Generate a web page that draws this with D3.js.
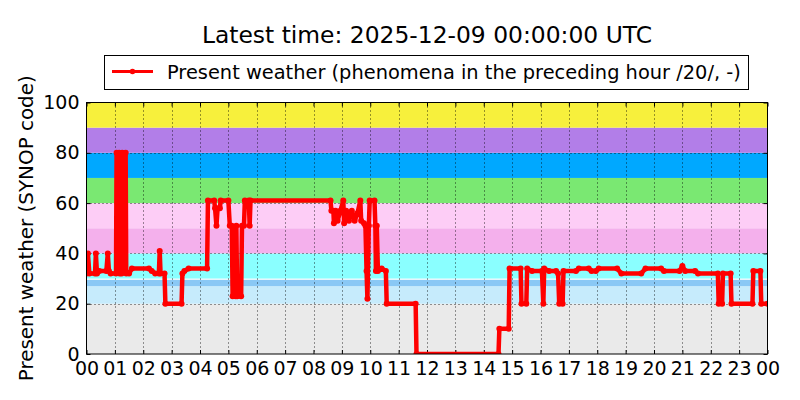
<!DOCTYPE html>
<html><head><meta charset="utf-8">
<script src="https://cdn.jsdelivr.net/npm/d3@7"></script>
<style>body{margin:0;background:#fff}svg{display:block;font-family:"DejaVu Sans",sans-serif}</style>
</head><body><svg id="c" width="800" height="400"></svg>
<script>
const titleText = "Latest time: 2025-12-09 00:00:00 UTC";
const legendText = "Present weather (phenomena in the preceding hour /20/, -)";
const yLabel = "Present weather (SYNOP code)";
const hourTicks = d3.range(0, 25);
const hourLabels = ["00","01","02","03","04","05","06","07","08","09","10","11","12","13","14","15","16","17","18","19","20","21","22","23","00"];
const yTicks = [0, 20, 40, 60, 80, 100];
const bandLow  = [0, 20, 27, 30, 40, 50, 60, 70, 80, 90];
const bandHigh = [20, 27, 29.5, 40, 50, 60, 70, 80, 90, 100];
const bandColors = ["#eaeaea","#c6ebfc","#8ac8f5","#8affff","#f4b0ec","#fdcdf6","#7ae872","#00a8ff","#b27ee8","#f7f03c"];
const times = [0.00,0.05,0.10,0.30,0.33,0.37,0.45,0.70,0.75,0.79,0.85,1.04,1.06,1.15,1.17,1.24,1.26,1.38,1.40,1.50,1.60,2.20,2.30,2.42,2.55,2.58,2.61,2.75,2.78,3.35,3.38,3.45,3.60,4.25,4.28,4.50,4.53,4.58,4.62,4.70,4.73,5.00,5.05,5.12,5.15,5.25,5.28,5.31,5.45,5.48,5.55,5.58,5.72,5.75,5.78,8.60,8.63,8.70,8.72,8.78,8.85,8.95,9.05,9.08,9.15,9.25,9.35,9.45,9.55,9.65,9.68,9.78,9.83,9.87,9.90,9.95,9.98,10.15,10.18,10.20,10.23,10.27,10.40,10.55,10.58,11.60,11.63,14.52,14.55,14.88,14.91,15.30,15.33,15.50,15.53,15.70,16.05,16.10,16.13,16.30,16.55,16.62,16.66,16.78,16.81,17.25,17.35,17.70,17.80,17.95,18.05,18.70,18.85,19.55,19.70,20.25,20.35,20.90,21.00,21.10,21.45,21.55,22.25,22.28,22.40,22.43,22.70,22.73,23.47,23.50,23.75,23.78,24.00];
const values = [32,40,32,32,40,32,33,33,40,33,32,32,80,80,32,32,80,80,32,32,34,34,33,32,32,41,32,32,20,20,32,33,34,34,61,61,58,51,58,58,61,61,51,51,23,23,51,23,23,51,51,61,61,51,61,61,57,57,52,57,53,57,61,52,57,53,57,53,56,61,53,52,51,33,22,51,61,61,51,33,51,33,34,33,20,20,0,0,10,10,34,34,20,20,34,33,33,20,34,33,33,32,20,20,33,33,34,34,33,33,34,34,32,32,34,34,33,33,35,33,33,32,32,20,20,32,32,20,20,33,33,20,20];

const svg = d3.select("#c");
const L = 86.5, R = 767.5, T = 102.5, B = 354;
const x = d3.scaleLinear().domain([0, 24]).range([L, R]);
const y = d3.scaleLinear().domain([0, 100]).range([B, T]);

svg.append("defs").append("clipPath").attr("id", "plotclip")
  .append("rect").attr("x", L).attr("y", T).attr("width", R - L).attr("height", B - T);

// bands
svg.append("g").selectAll("rect").data(bandLow).join("rect")
  .attr("x", L).attr("width", R - L)
  .attr("y", (d, i) => y(bandHigh[i])).attr("height", (d, i) => y(d) - y(bandHigh[i]))
  .attr("fill", (d, i) => bandColors[i]);

// grid
const grid = svg.append("g").attr("stroke", "#000").attr("stroke-width", 0.8).attr("stroke-dasharray", "1,3");
grid.selectAll("line.v").data(hourTicks.slice(1, -1)).join("line")
  .attr("x1", d => Math.round(x(d)) + 0.5).attr("x2", d => Math.round(x(d)) + 0.5).attr("y1", T).attr("y2", B);
grid.selectAll("line.h").data(yTicks.slice(1, -1)).join("line")
  .attr("y1", d => Math.round(y(d)) + 0.5).attr("y2", d => Math.round(y(d)) + 0.5).attr("x1", L).attr("x2", R);

// axes
const xAxis = d3.axisBottom(x).tickValues(hourTicks).tickFormat((d, i) => hourLabels[i]).tickSizeInner(-4).tickSizeOuter(0).tickPadding(8);
const gx = svg.append("g").attr("transform", `translate(0,${B})`).call(xAxis);
const yAxis = d3.axisLeft(y).tickValues(yTicks).tickSizeInner(-4).tickSizeOuter(0).tickPadding(7);
const gy = svg.append("g").attr("transform", `translate(${L},0)`).call(yAxis);
[gx, gy].forEach(g => {
  g.select(".domain").remove();
  g.selectAll("text").attr("font-size", 19).attr("font-family", "DejaVu Sans").attr("fill", "#000");
  g.selectAll("line").attr("stroke", "#000");
});
// top & right ticks
svg.append("g").attr("transform", `translate(0,${T})`).call(d3.axisTop(x).tickValues(hourTicks).tickSizeInner(-4).tickSizeOuter(0).tickFormat(""))
  .call(g => { g.select(".domain").remove(); g.selectAll("line").attr("stroke", "#000"); });
svg.append("g").attr("transform", `translate(${R},0)`).call(d3.axisRight(y).tickValues(yTicks).tickSizeInner(-4).tickSizeOuter(0).tickFormat(""))
  .call(g => { g.select(".domain").remove(); g.selectAll("line").attr("stroke", "#000"); });

// data line
const pts = times.map((t, i) => [t, values[i]]);
const line = d3.line().x(d => x(d[0])).y(d => y(d[1]));
const plot = svg.append("g").attr("clip-path", "url(#plotclip)");
plot.append("path").datum(pts).attr("d", line).attr("fill", "none").attr("stroke", "#ff0000")
  .attr("stroke-width", 4.5).attr("stroke-linejoin", "round").attr("stroke-linecap", "round");
plot.append("g").selectAll("circle").data(pts).join("circle")
  .attr("cx", d => x(d[0])).attr("cy", d => y(d[1])).attr("r", 3).attr("fill", "#ff0000");

// frame
svg.append("rect").attr("x", L).attr("y", T).attr("width", R - L).attr("height", B - T)
  .attr("fill", "none").attr("stroke", "#000").attr("stroke-width", 1);

// title
svg.append("text").attr("x", (L + R) / 2).attr("y", 43).attr("text-anchor", "middle")
  .attr("font-size", 23.4).text(titleText);

// y label
svg.append("text").attr("transform", `translate(33,${(T + B) / 2}) rotate(-90)`).attr("text-anchor", "middle")
  .attr("font-size", 19.9).text(yLabel);

// legend
const lg = svg.append("g");
lg.append("rect").attr("x", 104.5).attr("y", 55.5).attr("width", 644).attr("height", 34)
  .attr("fill", "#fff").attr("stroke", "#000").attr("stroke-width", 1);
lg.append("line").attr("x1", 112).attr("x2", 153).attr("y1", 71.5).attr("y2", 71.5)
  .attr("stroke", "#ff0000").attr("stroke-width", 3);
lg.append("circle").attr("cx", 132.5).attr("cy", 71.5).attr("r", 2.8).attr("fill", "#ff0000");
lg.append("text").attr("x", 167).attr("y", 78.5).attr("font-size", 19.4).text(legendText);
</script></body></html>
